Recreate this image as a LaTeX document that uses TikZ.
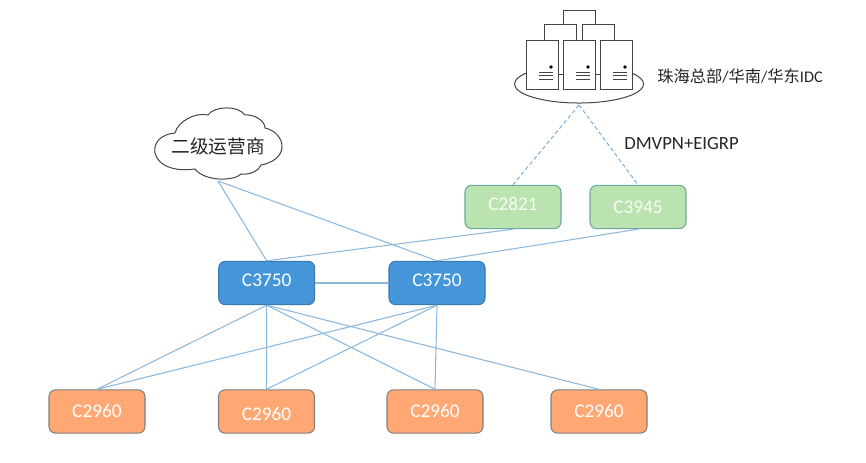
\documentclass[tikz,border=0pt]{standalone}
\usepackage{fontspec}
\setmainfont{Carlito}
\newfontfamily\cjk{Noto Sans CJK SC}
\usetikzlibrary{shapes.geometric,calc}
\definecolor{linkblue}{HTML}{8DB8DE}
\definecolor{dashblue}{HTML}{7FB2DE}
\definecolor{outline}{HTML}{444444}
\definecolor{greenfill}{HTML}{BBE3B0}
\definecolor{greenline}{HTML}{6FA8A0}
\definecolor{bluefill}{HTML}{4595D9}
\definecolor{blueline}{HTML}{3A78B0}
\definecolor{orangefill}{HTML}{FFA873}
\definecolor{orangeline}{HTML}{7F7F80}
\tikzset{
  x=0.75pt,y=-0.75pt,
  devbox/.style={rectangle,rounded corners=5pt,minimum width=72pt,minimum height=32.5pt,inner sep=0pt,line width=0.8pt,text=white,font=\fontsize{14.5}{16}\selectfont},
  greenbox/.style={devbox,fill=greenfill,draw=greenline,text=white!92!greenfill},
  bluebox/.style={devbox,fill=bluefill,draw=blueline},
  orangebox/.style={devbox,fill=orangefill,draw=orangeline},
  link/.style={draw=linkblue,line width=0.8pt},
  vpn/.style={draw=dashblue,line width=0.8pt,dash pattern=on 3pt off 2pt},
  srv/.style={rectangle,draw=outline,line width=0.75pt,fill=white,minimum width=24pt,minimum height=36.75pt,inner sep=0pt},
  wire/.style={draw=outline,line width=0.75pt},
  plain/.style={inner sep=0pt,text=black!85},
}
\begin{document}
\begin{tikzpicture}
\useasboundingbox (0,0) rectangle (866,463);
% devices
\node[greenbox] (r1) at (513,207) {\raisebox{4.5pt}{C2821}};
\node[greenbox] (r2) at (638,207) {C3945};
\node[bluebox] (s1) at (266.7,283) {\raisebox{4pt}{C3750}};
\node[bluebox] (s2) at (437,283) {\raisebox{4pt}{C3750}};
\node[orangebox] (a1) at (97,411.5) {\raisebox{1pt}{C2960}};
\node[orangebox] (a2) at (266.5,411.5) {\raisebox{-1.5pt}[\height][0pt]{C2960}};
\node[orangebox] (a3) at (435,411.5) {\raisebox{1pt}{C2960}};
\node[orangebox] (a4) at (599,411.5) {\raisebox{1pt}{C2960}};
% cloud
\draw[outline,line width=0.75pt,fill=white]
  (175,133) .. controls (178,121) and (196,112) .. (208,115)
  .. controls (214,106) and (238,105) .. (245,115)
  .. controls (253,114) and (265,120) .. (265,128)
  .. controls (275,130) and (283,139) .. (282,148)
  .. controls (281,157) and (272,163) .. (261,165)
  .. controls (258,172) and (248,175) .. (241,174)
  .. controls (235,181) and (205,182) .. (195,169)
  .. controls (175,172) and (158,166) .. (155,153)
  .. controls (153,142) and (162,134) .. (175,133) -- cycle;
\node[plain,font=\cjk\fontsize{14}{16}\selectfont] (cloud) at (218,146) {二级运营商};
% datacentre
\node[ellipse,minimum width=96.75pt,minimum height=30pt,inner sep=0pt] (dc) at (579,85) {};
\draw[wire] (526,73.2) arc[start angle=214.7,end angle=-34.7,x radius=64.5,y radius=19];
\node[srv] (sv1) at (542,65.5) {};
\node[srv] (sv2) at (579,65.5) {};
\node[srv] (sv3) at (616,65.5) {};
\draw[wire] (544.5,41) -- (544.5,25) -- (576,25) -- (576,41);
\draw[wire] (582,41) -- (582,25) -- (614,25) -- (614,41);
\draw[wire] (563,25) -- (563,10.5) -- (595,10.5) -- (595,25);
\draw[wire] (558,74.5) -- (563,74.5) (595,74.5) -- (600,74.5);
\foreach \c in {sv1,sv2,sv3}{
  \fill[black] ($(\c.center)+(9,1.5)$) circle[radius=1.8];
  \foreach \y in {7,10.5,14.5}{
    \draw[wire] ($(\c.center)+(-3,\y)$) -- ($(\c.center)+(10.5,\y)$);
  }
}
% links
\coordinate (cb) at (218,181);
\coordinate (apex) at (579,105);
\draw[link] (cb) -- (s1.north);
\draw[link] (cb) -- (s2.north);
\draw[link] (s1.north) -- (r1.south);
\draw[link] (s2.north) -- (r2.south);
\draw[link] (s1.east) -- (s2.west);
\foreach \t in {a1,a2,a3,a4}{\draw[link] (s1.south) -- (\t.north);}
\foreach \t in {a1,a2,a3}{\draw[link] (s2.south) -- (\t.north);}
\draw[vpn] (apex) -- (r1.north);
\draw[vpn] (apex) -- (r2.north);
% labels
\node[plain,anchor=west,font=\fontsize{12.2}{14}\selectfont] (idc) at (657,76) {{\cjk 珠海总部}/{\cjk 华南}/{\cjk 华东}IDC};
\node[plain,anchor=west,font=\fontsize{14}{16}\selectfont] (vpnlabel) at (624,144) {DMVPN+EIGRP};
\end{tikzpicture}
\end{document}
